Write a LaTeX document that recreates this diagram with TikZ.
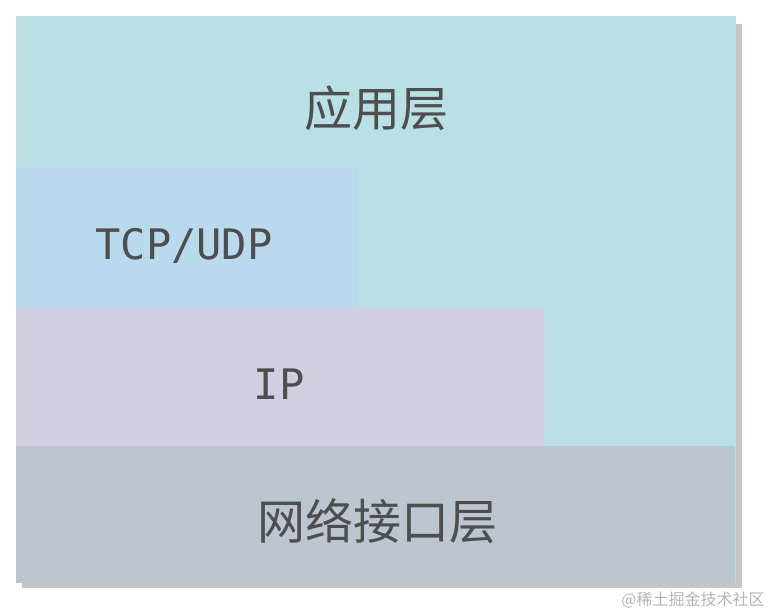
\documentclass[tikz,border=0pt]{standalone}
\usepackage{fontspec}
\newfontfamily\cjk{Noto Sans CJK SC}
\newfontfamily\mono{DejaVu Sans Mono}
\definecolor{appcol}{HTML}{B9E0E4}
\definecolor{tcpcol}{HTML}{B9DAEC}
\definecolor{ipcol}{HTML}{D2CFE2}
\definecolor{netcol}{HTML}{BCC6D0}
\definecolor{shadowcol}{HTML}{C6C6C6}
\definecolor{txtcol}{HTML}{4E4E4E}
\definecolor{markcol}{HTML}{B4B4B4}
\begin{document}
\begin{tikzpicture}[x=0.5pt,y=-0.5pt,
    lbl/.style={text=txtcol,inner sep=0pt},
    cjktext/.style={lbl,font=\cjk\fontsize{24}{24}\selectfont},
    monotext/.style={lbl,font=\mono\fontsize{21}{21}\selectfont}]
  \useasboundingbox (0,0) rectangle (772,614);
  % shadow and layers
  \fill[shadowcol] (22,24) rectangle (742,588);
  \fill[appcol] (16,16) rectangle (736,583);
  \fill[tcpcol] (16,168) rectangle (359,308);
  \fill[ipcol] (16,308) rectangle (544,446);
  \fill[netcol] (16,446) rectangle (735,583);
  % labels
  \node[cjktext] (app) at (376,108) {应用层};
  \node[monotext] (tcp) at (184,246) {TCP/UDP};
  \node[monotext] (ip) at (279,384) {IP};
  \node[cjktext] (net) at (377,521) {网络接口层};
  \node[text=markcol,inner sep=0pt,anchor=east,font=\cjk\fontsize{8}{8}\selectfont] (mark) at (765,600) {@稀土掘金技术社区};
\end{tikzpicture}
\end{document}
